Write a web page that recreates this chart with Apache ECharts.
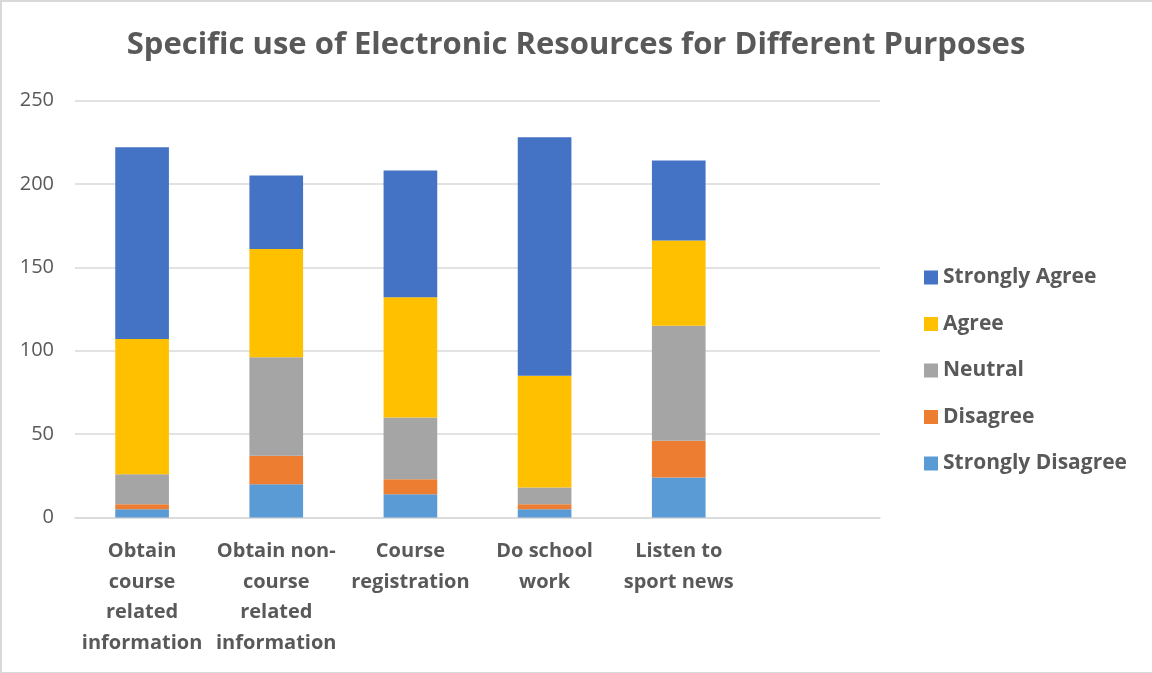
<!DOCTYPE html>
<html>
<head>
<meta charset="utf-8">
<script src="https://cdn.jsdelivr.net/npm/echarts@6/dist/echarts.min.js"></script>
<style>
  html, body { margin: 0; padding: 0; background: #fff; }
  #frame { position: absolute; left: 0; top: 0; width: 1152px; height: 673px; box-sizing: border-box;
           border-left: 2px solid #D9D9D9; border-top: 2px solid #D9D9D9; border-bottom: 1px solid #D9D9D9; }
  #chart { position: absolute; left: 0; top: 0; width: 1152px; height: 673px; }
</style>
</head>
<body>
<div id="frame"></div>
<div id="chart"></div>
<script>
// Purposes (last slot is left empty on the axis)
const categories = [
  'Obtain\ncourse\nrelated\ninformation',
  'Obtain non-\ncourse\nrelated\ninformation',
  'Course\nregistration',
  'Do school\nwork',
  'Listen to\nsport news',
  ''
];

// Responses per purpose
const stronglyDisagree = [5, 20, 14, 5, 24];
const disagree         = [3, 17, 9, 3, 22];
const neutral          = [18, 59, 37, 10, 69];
const agree            = [81, 65, 72, 67, 51];
const stronglyAgree    = [115, 44, 76, 143, 48];

const yTicks = [0, 50, 100, 150, 200, 250];

const FONT = '"Open Sans", Lato, sans-serif';
const TEXT = '#595959';

const chart = echarts.init(document.getElementById('chart'));

function stackSeries(name, data, color) {
  return {
    name: name,
    type: 'bar',
    stack: 'total',
    barWidth: '40%',
    data: data,
    itemStyle: { color: color },
    emphasis: { disabled: true }
  };
}

chart.setOption({
  animation: false,
  title: {
    text: 'Specific use of Electronic Resources for Different Purposes',
    left: 'center',
    top: 25,
    textStyle: { fontFamily: FONT, fontSize: 31, fontWeight: 'bold', color: TEXT }
  },
  legend: {
    orient: 'vertical',
    left: 919,
    top: 262,
    itemWidth: 14,
    itemHeight: 14,
    itemGap: 25.5,
    icon: 'rect',
    data: ['Strongly Agree', 'Agree', 'Neutral', 'Disagree', 'Strongly Disagree'],
    textStyle: { fontFamily: FONT, fontSize: 21, fontWeight: 'bold', color: TEXT, lineHeight: 21 }
  },
  grid: { left: 75, right: 272, top: 100.5, bottom: 155.5 },
  xAxis: {
    type: 'category',
    data: categories,
    axisTick: { show: false },
    axisLine: { lineStyle: { color: '#D9D9D9', width: 1.5 } },
    axisLabel: {
      interval: 0,
      margin: 19,
      fontFamily: FONT,
      fontSize: 20,
      fontWeight: 'bold',
      color: TEXT,
      lineHeight: 30.5
    }
  },
  yAxis: {
    type: 'value',
    min: yTicks[0],
    max: yTicks[yTicks.length - 1],
    interval: 50,
    axisLine: { show: false },
    axisTick: { show: false },
    splitLine: { lineStyle: { color: '#D9D9D9', width: 1.5 } },
    axisLabel: { margin: 21, fontFamily: FONT, fontSize: 20, color: TEXT }
  },
  series: [
    stackSeries('Strongly Disagree', stronglyDisagree, '#5B9BD5'),
    stackSeries('Disagree', disagree, '#ED7D31'),
    stackSeries('Neutral', neutral, '#A5A5A5'),
    stackSeries('Agree', agree, '#FFC000'),
    stackSeries('Strongly Agree', stronglyAgree, '#4472C4')
  ]
});
</script>
</body>
</html>
